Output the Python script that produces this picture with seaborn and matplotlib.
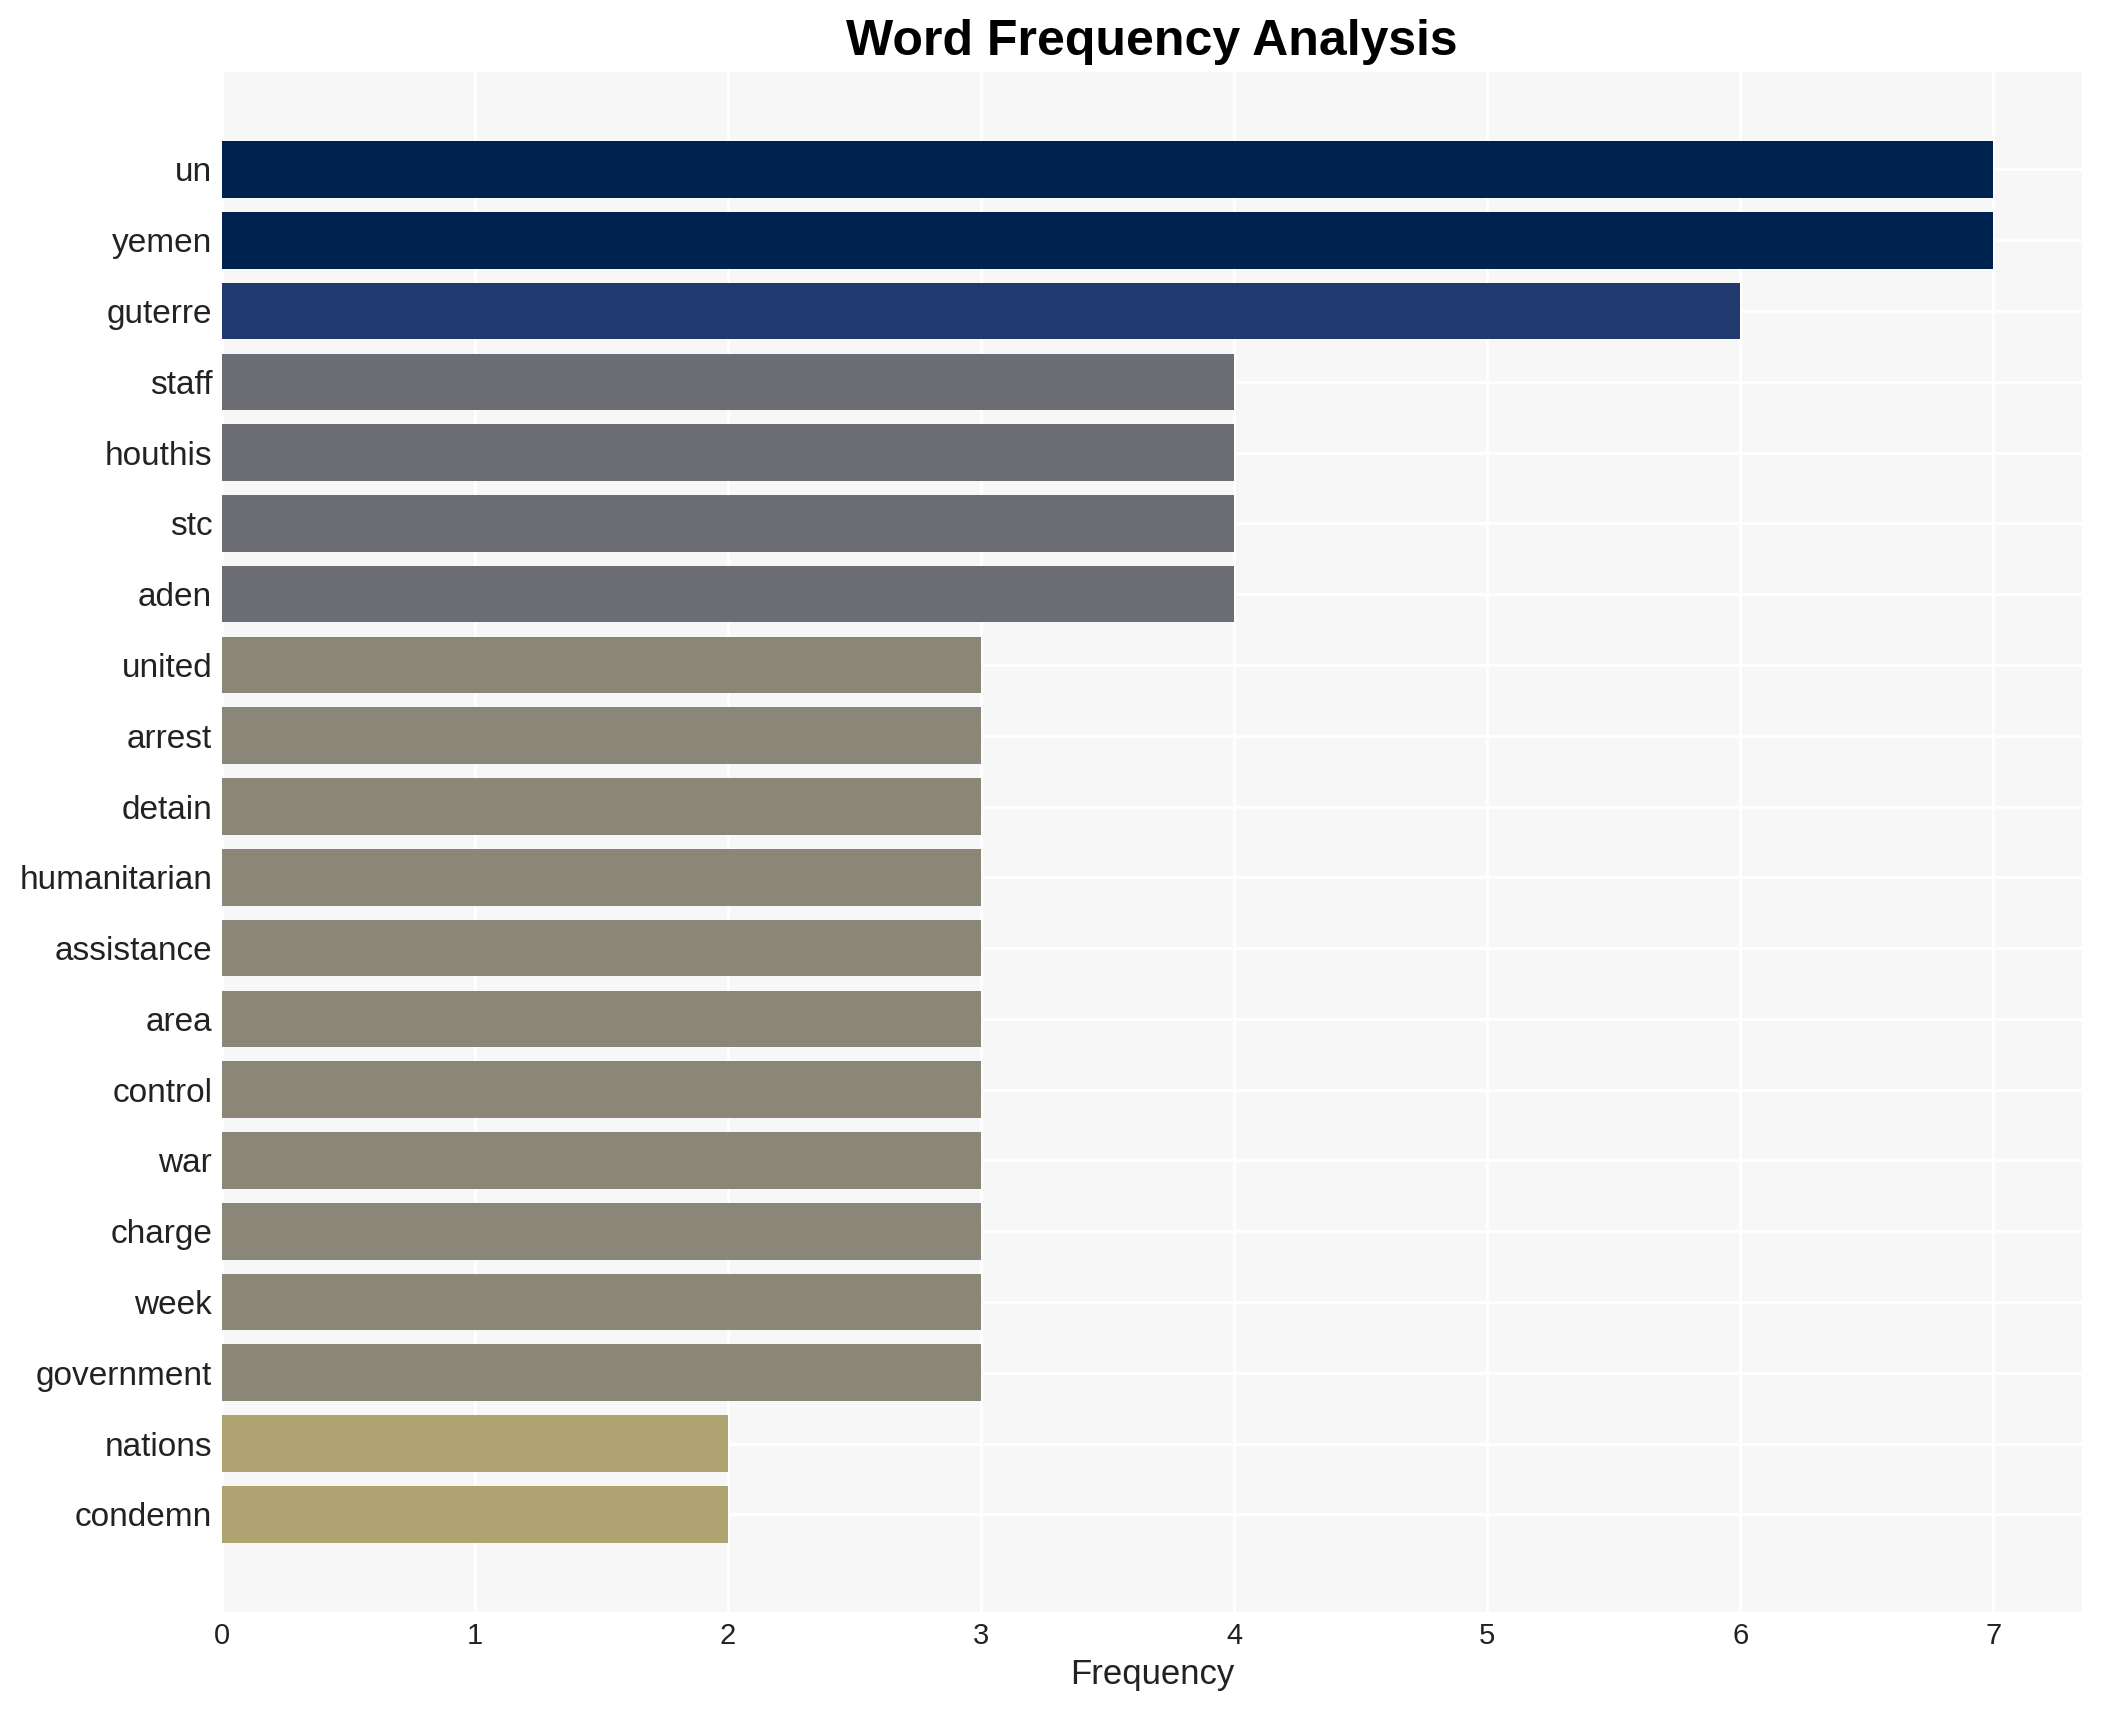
import pandas as pd
import matplotlib
matplotlib.use('Agg')
import matplotlib.pyplot as plt
import seaborn as sns

# Datos de la gráfica
palabras = ['un', 'yemen', 'guterre', 'staff', 'houthis', 'stc', 'aden', 'united', 'arrest',
            'detain', 'humanitarian', 'assistance', 'area', 'control', 'war', 'charge', 'week',
            'government', 'nations', 'condemn']
frecuencias = [7, 7, 6, 4, 4, 4, 4, 3, 3, 3, 3, 3, 3, 3, 3, 3, 3, 3, 2, 2]

df = pd.DataFrame({'word': palabras, 'freq': frecuencias})

sns.set_theme(style='whitegrid')
plt.rcParams['font.family'] = ['Liberation Sans', 'DejaVu Sans']

# colores sacados del mapa cividis segun la frecuencia
cmap = matplotlib.colormaps['cividis']
fmax = max(frecuencias)
colores = {f: cmap((fmax - f) / (fmax * 1.02)) for f in set(frecuencias)}

fig, ax = plt.subplots(figsize=(10.51, 8.55), dpi=200)
ax.set_facecolor('#f7f7f7')
sns.barplot(data=df, y='word', x='freq', hue='freq', palette=colores, dodge=False,
            legend=False, ax=ax, width=0.8, saturation=1, linewidth=0)

ax.grid(True, color='white', linewidth=1)
ax.set_axisbelow(True)
for s in ax.spines.values():
    s.set_visible(False)
ax.tick_params(length=0, colors='#222222')
ax.set_ylim(len(palabras) - 1 + 1.38, -1.38)

ax.set_title('Word Frequency Analysis', fontsize=18, fontweight='bold', pad=6, color='black')
ax.set_xlabel('Frequency', fontsize=12.5, color='#222222', labelpad=3)
ax.set_ylabel('')
plt.setp(ax.get_yticklabels(), fontsize=12)
plt.setp(ax.get_xticklabels(), fontsize=10.5)

plt.subplots_adjust(left=0.1056, right=0.9905, top=0.958, bottom=0.0573)
plt.savefig('out.png', dpi=200)
